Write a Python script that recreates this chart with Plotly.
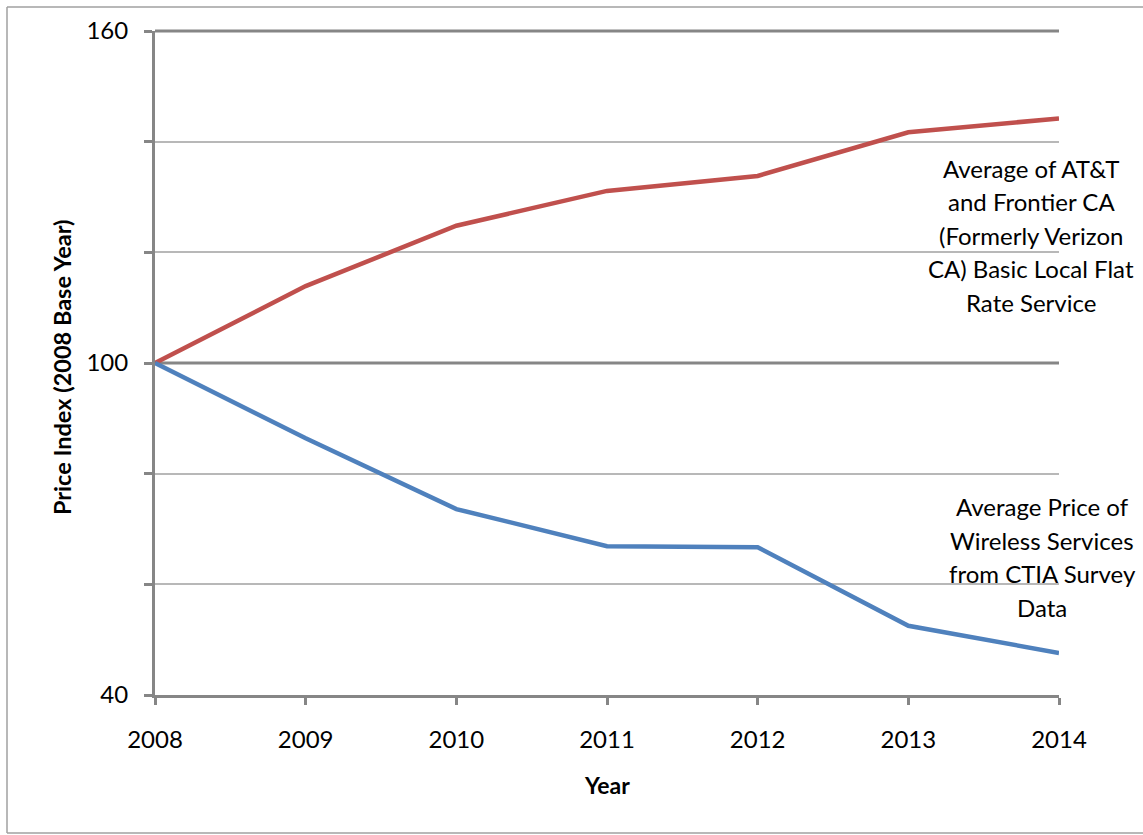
import plotly.graph_objects as go

years = [2008, 2009, 2010, 2011, 2012, 2013, 2014]
wireline_index = [100, 113.9, 124.8, 131.1, 133.8, 141.7, 144.2]
wireless_index = [100, 86.4, 73.6, 66.9, 66.7, 52.5, 47.6]
y_tick_vals = [40, 60, 80, 100, 120, 140, 160]
y_tick_text = ["40", "", "", "100", "", "", "160"]
wireline_label = ["Average of AT&T", "and Frontier CA", "(Formerly Verizon",
                  "CA) Basic Local Flat", "Rate Service"]
wireless_label = ["Average Price of", "Wireless Services", "from CTIA Survey", "Data"]

FONT = "Lato"
AXIS_GRAY = "#868686"
GRID_GRAY = "#b8b8b8"

W, H = 1143, 835
L, R, T, B = 155, 84, 31, 140
PW, PH = W - L - R, H - T - B


def px(x):
    return (x - L) / PW


def py(y):
    return (H - B - y) / PH


fig = go.Figure()
fig.add_trace(go.Scatter(x=years, y=wireline_index, mode="lines",
                         line=dict(color="#C0504D", width=4.5), showlegend=False))
fig.add_trace(go.Scatter(x=years, y=wireless_index, mode="lines",
                         line=dict(color="#4F81BD", width=4.5), showlegend=False))

shapes = []
# thick major gridlines at 100 and at the top (160)
shapes.append(dict(type="line", xref="x", yref="y", x0=2008, x1=2014, y0=100, y1=100,
                   line=dict(color=AXIS_GRAY, width=3), layer="between"))
shapes.append(dict(type="line", xref="paper", yref="paper", x0=0, x1=1, y0=1, y1=1,
                   line=dict(color=AXIS_GRAY, width=3), layer="between"))
# outer border of chart area (top, left, bottom)
bx0, bx1, by0, by1 = px(7), px(1143), py(833), py(7)
for (xa, ya, xb, yb) in [(bx0, by1, bx1, by1), (bx0, by0, bx0, by1), (bx0, by0, bx1, by0)]:
    shapes.append(dict(type="line", xref="paper", yref="paper", x0=xa, y0=ya, x1=xb, y1=yb,
                       line=dict(color="#a0a0a0", width=1.5), layer="below"))

annotations = []
spacing = 33.5
c1 = 235
for i, t in enumerate(wireline_label):
    yy = c1 + (i - (len(wireline_label) - 1) / 2) * spacing
    annotations.append(dict(text=t, xref="paper", yref="paper", x=px(1031), y=py(yy),
                            xanchor="center", yanchor="middle", showarrow=False,
                            font=dict(family=FONT, size=24, color="#000")))
c2 = 557
for i, t in enumerate(wireless_label):
    yy = c2 + (i - (len(wireless_label) - 1) / 2) * spacing
    annotations.append(dict(text=t, xref="paper", yref="paper", x=px(1042), y=py(yy),
                            xanchor="center", yanchor="middle", showarrow=False,
                            font=dict(family=FONT, size=24, color="#000")))
annotations.append(dict(text="<b>Price Index (2008 Base Year)</b>", xref="paper", yref="paper",
                        x=px(62), y=py(367), xanchor="center", yanchor="middle",
                        textangle=-90, showarrow=False,
                        font=dict(family=FONT, size=23.5, color="#000")))
annotations.append(dict(text="<b>Year</b>", xref="paper", yref="paper",
                        x=px(607), y=py(785), xanchor="center", yanchor="middle",
                        showarrow=False, font=dict(family=FONT, size=23, color="#000")))

fig.update_layout(
    width=W, height=H,
    margin=dict(l=L, r=R, t=T, b=B),
    paper_bgcolor="white", plot_bgcolor="white",
    shapes=shapes, annotations=annotations,
    font=dict(family=FONT, size=24, color="#000"),
    xaxis=dict(range=[2008, 2014], tickvals=years, ticks="outside", ticklen=7,
               tickwidth=3, tickcolor=AXIS_GRAY, showline=True, linewidth=3,
               linecolor=AXIS_GRAY, showgrid=False, zeroline=False,
               ticklabelstandoff=14, tickfont=dict(family=FONT, size=24)),
    yaxis=dict(range=[40, 160], tickvals=y_tick_vals, ticktext=y_tick_text,
               ticks="outside", ticklen=8, tickwidth=3, tickcolor=AXIS_GRAY,
               showline=True, linewidth=3, linecolor=AXIS_GRAY,
               showgrid=True, gridcolor=GRID_GRAY, gridwidth=1.5, zeroline=False,
               ticklabelstandoff=11, tickfont=dict(family=FONT, size=24)),
)

fig.write_html("out.html")
